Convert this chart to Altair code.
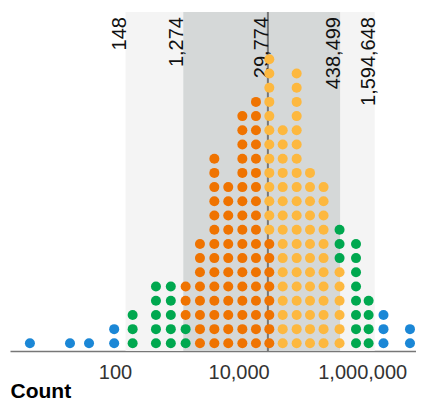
import altair as alt
import pandas as pd

# Dot columns (bin centres, in counts) and number of dots of each colour per column
col_values = [4.2, 18.7, 38, 97, 193, 460, 800, 1390, 2370, 4050, 6800, 11500,
              19100, 31400, 51700, 87000, 143000, 237000, 430000, 794000,
              1270000, 2210000, 5930000]
n_blue   = [1, 1, 1, 2, 0, 0, 0, 0, 0, 0, 0, 0, 0, 0, 0, 0, 0, 0, 0, 0, 0, 3, 2]
n_green  = [0, 0, 0, 0, 3, 5, 5, 2, 0, 0, 0, 0, 0, 0, 0, 0, 0, 0, 3, 8, 4, 0, 0]
n_orange = [0, 0, 0, 0, 0, 0, 0, 3, 8, 14, 12, 17, 18, 8, 0, 0, 0, 0, 0, 0, 0, 0, 0]
n_yellow = [0, 0, 0, 0, 0, 0, 0, 0, 0, 0, 0, 0, 0, 13, 16, 20, 13, 12, 6, 0, 0, 0, 0]

median = 29774
inner = [1274, 438499]
outer = [148, 1594648]
band_labels = [148, 1274, 29774, 438499, 1594648]

cats = ["outer", "middle", "inner_low", "inner_high"]
cat_colors = ["#1b87d6", "#00a84f", "#ef7300", "#fdb83f"]

rows = []
for i, v in enumerate(col_values):
    counts = {"outer": n_blue[i], "middle": n_green[i],
              "inner_low": n_orange[i], "inner_high": n_yellow[i]}
    order = (["outer", "middle", "inner_low", "inner_high"] if v < median
             else ["inner_low", "inner_high", "middle", "outer"])
    k = 0
    for c in order:
        for _ in range(counts[c]):
            rows.append({"value": v, "row": k, "band": c})
            k += 1
dots = pd.DataFrame(rows)

xscale = alt.Scale(type="log", domain=[2, 7.42e6], nice=False)

bands = pd.DataFrame({
    "lo": [outer[0], inner[0]],
    "hi": [outer[1], inner[1]],
    "kind": ["outer", "inner"],
})
band_layer = alt.Chart(bands).mark_rect().encode(
    x=alt.X("lo:Q", scale=xscale,
            axis=alt.Axis(values=[100, 10000, 1000000], format=",", ticks=False,
                          tickSize=0, grid=False, labelFontSize=20,
                          labelFont="Liberation Sans", labelColor="#333",
                          labelPadding=11, domainColor="#777", domainWidth=1.5,
                          title="Count", titleAnchor="start", titleAlign="left",
                          titleBaseline="alphabetic", titleX=0, titleY=46,
                          titleFont="Liberation Sans", titleFontSize=21,
                          titleFontWeight="bold", titleColor="#000")),
    x2="hi:Q",
    color=alt.Color("kind:N", scale=alt.Scale(domain=["outer", "inner"],
                                              range=["#f4f4f4", "#d5d8d8"]),
                    legend=None),
)

med_df = pd.DataFrame({"m": [median]})
rule = alt.Chart(med_df).mark_rule(color="#777", strokeWidth=2).encode(
    x=alt.X("m:Q", scale=xscale)
)

lab_df = pd.DataFrame({"v": band_labels})
labels = alt.Chart(lab_df).mark_text(
    angle=270, align="right", baseline="alphabetic", fontSize=20,
    font="Liberation Sans", color="#111"
).encode(
    x=alt.X("v:Q", scale=xscale),
    y=alt.value(5),
    text=alt.Text("v:Q", format=","),
)

dot_layer = alt.Chart(dots).mark_circle(size=100, opacity=1).encode(
    x=alt.X("value:Q", scale=xscale),
    y=alt.Y("row:Q", scale=alt.Scale(domain=[-0.54, 23.33], nice=False, zero=False),
            axis=None),
    color=alt.Color("band:N", scale=alt.Scale(domain=cats, range=cat_colors),
                    legend=None),
)

chart = alt.layer(band_layer, rule, labels, dot_layer).resolve_scale(
    color="independent"
).properties(
    width=406, height=339,
    autosize=alt.AutoSizeParams(type="none"),
    padding={"left": 2, "top": 4, "right": 0, "bottom": 51},
).configure_view(stroke=None)

chart.save("out.html", embed_options={"renderer": "svg", "actions": False})
